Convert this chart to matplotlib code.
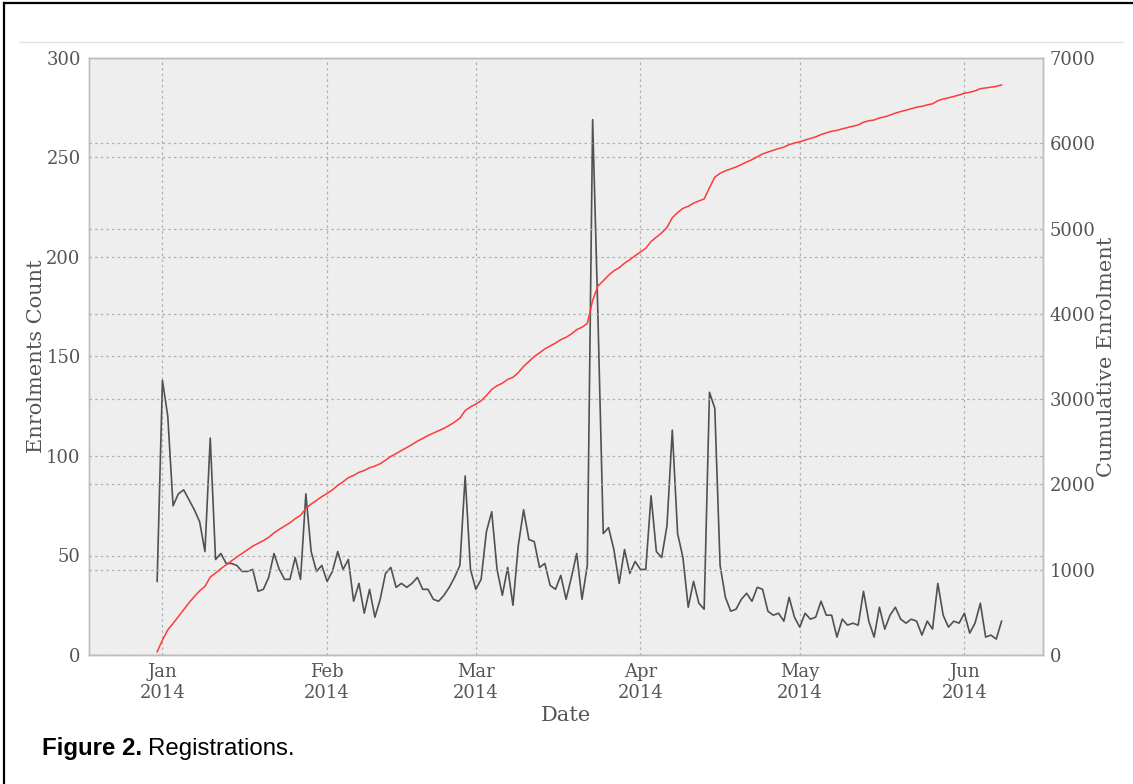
import numpy as np
import pandas as pd
import matplotlib
matplotlib.use("Agg")
import matplotlib.pyplot as plt
import matplotlib.dates as mdates
from matplotlib.lines import Line2D

# Daily enrolments, starting 2013-12-31
start_date = "2013-12-31"
daily_counts = [
    37, 138, 120, 75, 81, 83, 78, 73, 67, 52, 109, 48, 51, 46, 46, 45, 42, 42, 43, 32,
    33, 39, 51, 43, 38, 38, 49, 38, 81, 52, 42, 45, 37,
    42, 52, 43, 48, 27, 36, 21, 33, 19, 28, 41, 44, 34, 36, 34, 36, 39, 33, 33, 28,
    27, 30, 34, 39, 45, 90, 43, 33, 38, 62, 72, 43,
    30, 44, 25, 55, 73, 58, 57, 44, 46, 35, 33, 40, 28, 39, 51, 28, 45, 269, 170, 61,
    64, 53, 36, 53, 41, 47, 43, 43, 80, 52, 49, 65, 113,
    61, 49, 24, 37, 26, 23, 132, 124, 45, 29, 22, 23, 28, 31, 27, 34, 33, 22, 20, 21,
    17, 29, 19, 14, 21, 18, 19, 27, 20, 20, 9, 18, 15,
    16, 15, 32, 17, 9, 24, 13, 20, 24, 18, 16, 18, 17, 10, 17, 13, 36, 20, 14, 17,
    16, 21, 11, 16, 26, 9, 10, 8, 17,
]
month_ticks = ["2014-01-01", "2014-02-01", "2014-03-01", "2014-04-01", "2014-05-01", "2014-06-01"]
count_ticks = [0, 50, 100, 150, 200, 250, 300]
cumulative_ticks = [0, 1000, 2000, 3000, 4000, 5000, 6000, 7000]

dates = pd.date_range(start_date, periods=len(daily_counts), freq="D")
counts = np.array(daily_counts)
cumulative = np.cumsum(counts)

plt.rcParams["font.family"] = ["DejaVu Serif"]
text_grey = "#555555"
grid_kw = dict(color="#b0b0b0", linestyle=(0, (2, 2.5)), linewidth=0.9)

W, H = 1133, 784
fig = plt.figure(figsize=(W / 100, H / 100), dpi=100)
ax = fig.add_axes([89 / W, 1 - 655 / H, (1043 - 89) / W, (655 - 58) / H])
ax.set_facecolor("#eeeeee")
ax2 = ax.twinx()

ax.plot(dates, counts, color="#404040", linewidth=1.2, alpha=0.9)
ax2.plot(dates, cumulative, color="#ff3a3a", linewidth=1.1)

jan1 = pd.Timestamp("2014-01-01")
ax.set_xlim(jan1 - pd.Timedelta(days=13.83), jan1 + pd.Timedelta(days=165.8))
ax.set_ylim(0, 300)
ax2.set_ylim(0, 7000)
ax.set_yticks(count_ticks)
ax2.set_yticks(cumulative_ticks)
ax.set_xticks(pd.to_datetime(month_ticks))
ax.xaxis.set_major_formatter(mdates.DateFormatter("%b\n%Y"))

for a in (ax, ax2):
    for s in a.spines.values():
        s.set_color("#bcbcbc")
        s.set_linewidth(1.0)
    a.tick_params(length=0, labelsize=13, labelcolor=text_grey)
    a.set_axisbelow(True)
ax.tick_params(axis="y", pad=6)
ax2.tick_params(axis="y", pad=5)
ax.tick_params(axis="x", pad=6)

ax.grid(True, axis="both", **grid_kw)
ax2.grid(True, axis="y", **grid_kw)

ax.set_xlabel("Date", fontsize=15, color=text_grey, labelpad=3)
ax.set_ylabel("Enrolments Count", fontsize=15, color=text_grey, labelpad=0)
ax2.set_ylabel("Cumulative Enrolment", fontsize=15, color=text_grey, labelpad=1)

# Page decorations: frame edges and a thin rule above the plot
fig.add_artist(Line2D([4 / W, 1], [1 - 3 / H, 1 - 3 / H], color="black", linewidth=1.6))
fig.add_artist(Line2D([4 / W, 4 / W], [0, 1 - 3 / H], color="black", linewidth=1.6))
fig.add_artist(Line2D([19 / W, 1123 / W], [1 - 42 / H, 1 - 42 / H], color="#e3e3e3", linewidth=1.0))

# Caption: bold figure number followed by regular text
cap_y = 1 - 755 / H
t1 = fig.text(42 / W, cap_y, "Figure 2.", fontsize=17.3, fontweight="bold",
              family="Liberation Sans", va="baseline", ha="left", color="black")
renderer = fig.canvas.get_renderer()
bb = t1.get_window_extent(renderer)
fig.text((bb.x1 + 6) / W, cap_y, "Registrations.", fontsize=17.3,
         family="Liberation Sans", va="baseline", ha="left", color="black")

fig.savefig("out.png", dpi=100, facecolor="white")
